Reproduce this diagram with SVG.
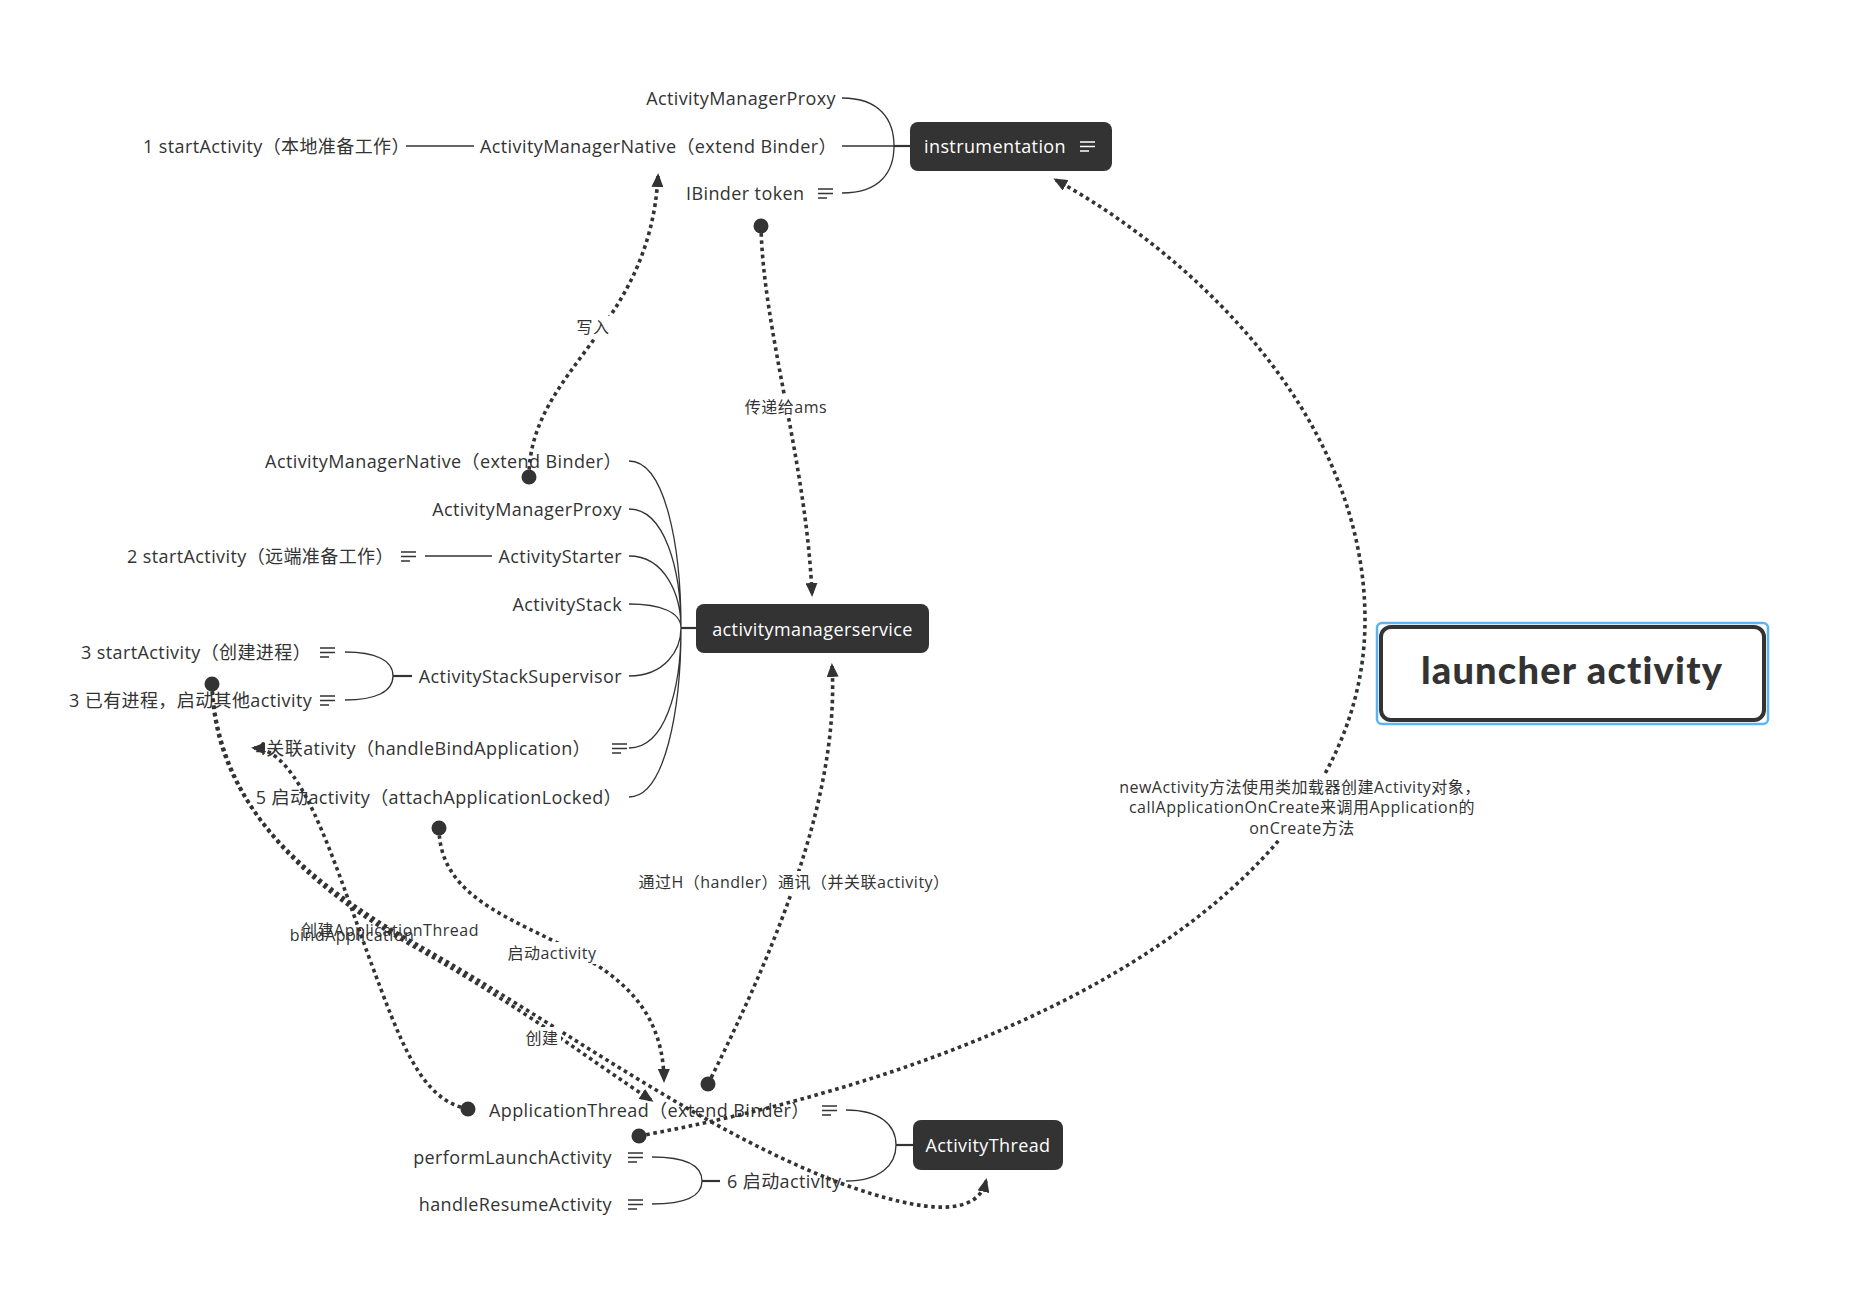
<svg xmlns="http://www.w3.org/2000/svg" width="1872" height="1294" viewBox="0 0 1872 1294">
<style>
.t{font-family:"Open Sans","Noto Sans CJK SC",sans-serif;font-size:18px;letter-spacing:0.4px;fill:#333;dominant-baseline:central}
.e{text-anchor:end}
.w{fill:#fff}
.m{text-anchor:middle}
.lbl{font-family:"Open Sans","Noto Sans CJK SC",sans-serif;font-size:16px;letter-spacing:0.5px;fill:#333;text-anchor:middle;dominant-baseline:central}
.br{fill:none;stroke:#333;stroke-width:1.3}
.stub{fill:none;stroke:#333;stroke-width:2.2}
.box{fill:#333}
.rel{fill:none;stroke:#333;stroke-width:3.6;stroke-dasharray:3.6 3.6;marker-end:url(#arr)}
.dot{fill:#333}
.bg{fill:#fff}
</style>
<defs>
<marker id="arr" markerWidth="14" markerHeight="12" refX="11" refY="6" orient="auto" markerUnits="userSpaceOnUse"><path d="M0,0 L14,6 L0,12 z" fill="#333"/></marker>
<symbol id="menu" viewBox="0 0 15 11"><path d="M0,1H15M0,5.5H15M0,10H9" fill="none" stroke="currentColor" stroke-width="1.6"/></symbol>
</defs>
<rect width="1872" height="1294" fill="#fff"/>

<g id="branches">
<path class="br" d="M842,98 C880,98 894,120 894,146 M842,193 C880,193 894,172 894,146 M842,146 H894"/>
<path class="stub" d="M894,146 H910"/>
<path class="br" d="M406,146 H474"/>
<path class="br" d="M629,461 C665,461 681,545 681,628 M629,509 C665,509 681,570 681,628 M629,556 C665,556 681,595 681,628 M629,604 C660,604 681,612 681,628 M629,676 C665,676 681,650 681,628 M629,748 C665,748 681,690 681,628 M629,797 C665,797 681,710 681,628"/>
<path class="stub" d="M681,628 H696"/>
<path class="br" d="M425,556 H492"/>
<path class="br" d="M345,652 C375,652 393,660 393,676 M345,700 C375,700 393,692 393,676"/>
<path class="stub" d="M393,676 H412"/>
<path class="br" d="M846,1110 C880,1110 896,1125 896,1145 M846,1181 C880,1181 896,1165 896,1145"/>
<path class="stub" d="M896,1145 H913"/>
<path class="br" d="M652,1157 C685,1157 702,1165 702,1181 M652,1204 C685,1204 702,1197 702,1181"/>
<path class="stub" d="M702,1181 H720"/>
</g>

<g id="n-instrumentation">
<rect class="box" x="910" y="122" width="202" height="49" rx="8"/>
<text class="t w" x="924" y="146">instrumentation</text>
<use href="#menu" x="1080" y="141" width="15" height="11" style="color:#fff"/>
</g>
<g id="n-amproxy-top"><text class="t e" x="836" y="98">ActivityManagerProxy</text></g>
<g id="n-amnative-top"><text class="t" x="480" y="146">ActivityManagerNative（extend Binder）</text></g>
<g id="n-start1"><text class="t" x="143" y="146">1 startActivity（本地准备工作）</text></g>
<g id="n-ibinder"><text class="t" x="686" y="193">IBinder token</text><use href="#menu" x="818" y="188" width="15" height="11" style="color:#333"/></g>

<g id="n-ams">
<rect class="box" x="696" y="604" width="233" height="49" rx="8"/>
<text class="t w m" x="812.5" y="628.5">activitymanagerservice</text>
</g>
<g id="n-amnative"><text class="t e" x="622" y="461">ActivityManagerNative（extend Binder）</text></g>
<g id="n-amproxy"><text class="t e" x="622" y="509">ActivityManagerProxy</text></g>
<g id="n-starter"><text class="t e" x="622" y="556">ActivityStarter</text></g>
<g id="n-start2"><text class="t" x="127" y="556">2 startActivity（远端准备工作）</text><use href="#menu" x="401" y="551" width="15" height="11" style="color:#333"/></g>
<g id="n-stack"><text class="t e" x="622" y="604">ActivityStack</text></g>
<g id="n-supervisor"><text class="t e" x="622" y="676">ActivityStackSupervisor</text></g>
<g id="n-start3a"><text class="t" x="81" y="652">3 startActivity（创建进程）</text><use href="#menu" x="320" y="647" width="15" height="11" style="color:#333"/></g>
<g id="n-start3b"><text class="t" x="69" y="700">3 已有进程，启动其他activity</text><use href="#menu" x="320" y="695" width="15" height="11" style="color:#333"/></g>
<g id="n-bind4"><text class="t e" x="591" y="748">4关联ativity（handleBindApplication）</text><use href="#menu" x="612" y="743" width="15" height="11" style="color:#333"/></g>
<g id="n-launch5"><text class="t e" x="622" y="797">5 启动activity（attachApplicationLocked）</text></g>

<g id="n-activitythread">
<rect class="box" x="913" y="1120" width="150" height="50" rx="8"/>
<text class="t w m" x="988" y="1145">ActivityThread</text>
</g>
<g id="n-appthread"><text class="t" x="489" y="1110">ApplicationThread（extend Binder）</text><use href="#menu" x="822" y="1105" width="15" height="11" style="color:#333"/></g>
<g id="n-start6"><text class="t" x="727" y="1181">6 启动activity</text></g>
<g id="n-perform"><text class="t e" x="612" y="1157">performLaunchActivity</text><use href="#menu" x="628" y="1152" width="15" height="11" style="color:#333"/></g>
<g id="n-resume"><text class="t e" x="612" y="1204">handleResumeActivity</text><use href="#menu" x="628" y="1199" width="15" height="11" style="color:#333"/></g>

<g id="n-launcher">
<rect x="1377" y="623" width="391" height="101" rx="5" fill="none" stroke="#5cb3f6" stroke-width="2.5"/>
<rect x="1381" y="627" width="383" height="93" rx="10" fill="#fff" stroke="#333" stroke-width="4"/>
<text x="1572" y="684" text-anchor="middle" style="font-family:Lato,'Open Sans',sans-serif;font-weight:900;font-size:38px;letter-spacing:1.2px;fill:#333">launcher activity</text>
</g>

<g id="connectors">
<path class="rel" d="M761,226 C763,330 806,460 812,594"/>
<path class="rel" d="M529,477 C529,370 650,330 658,176"/>
<path class="rel" d="M639,1136 C1050,1060 1365,880 1365,620 C1365,420 1200,260 1056,180"/>
<path class="rel" d="M708,1084 C770,960 840,800 832,666"/>
<path class="rel" d="M439,828 C440,950 662,920 664,1080"/>
<path class="rel" d="M212,684 C218,820 330,900 420,950 C520,1006 590,1060 651,1100"/>
<path class="rel" d="M212,684 C214,815 325,893 423,948 C560,1025 700,1130 840,1183 C930,1216 978,1215 986,1181"/>
<path class="rel" d="M468,1109 C420,1100 400,1040 370,960 C330,850 300,750 254,748"/>
<circle class="dot" cx="761" cy="226" r="7.5"/>
<circle class="dot" cx="529" cy="477" r="7.5"/>
<circle class="dot" cx="639" cy="1136" r="7.5"/>
<circle class="dot" cx="708" cy="1084" r="7.5"/>
<circle class="dot" cx="439" cy="828" r="7.5"/>
<circle class="dot" cx="212" cy="684" r="7.5"/>
<circle class="dot" cx="468" cy="1109" r="7.5"/>
</g>

<g id="labels">
<rect class="bg" x="740" y="396" width="92" height="22"/>
<text class="lbl" x="786" y="407">传递给ams</text>
<rect class="bg" x="573" y="316" width="40" height="22"/>
<text class="lbl" x="593" y="327">写入</text>
<rect class="bg" x="1112" y="774" width="378" height="66"/>
<text class="lbl" x="1300" y="787">newActivity方法使用类加载器创建Activity对象，</text>
<text class="lbl" x="1302" y="807">callApplicationOnCreate来调用Application的</text>
<text class="lbl" x="1302" y="828">onCreate方法</text>
<rect class="bg" x="636" y="871" width="318" height="22"/>
<text class="lbl" x="794" y="882">通过H（handler）通讯（并关联activity）</text>
<rect class="bg" x="503" y="942" width="98" height="22"/>
<text class="lbl" x="552" y="953">启动activity</text>
<rect class="bg" x="523" y="1027" width="38" height="22"/>
<text class="lbl" x="542" y="1038">创建</text>
<text class="lbl" x="390" y="930">创建ApplicationThread</text>
<text class="lbl" x="352" y="935">bindApplication</text>
</g>
</svg>
